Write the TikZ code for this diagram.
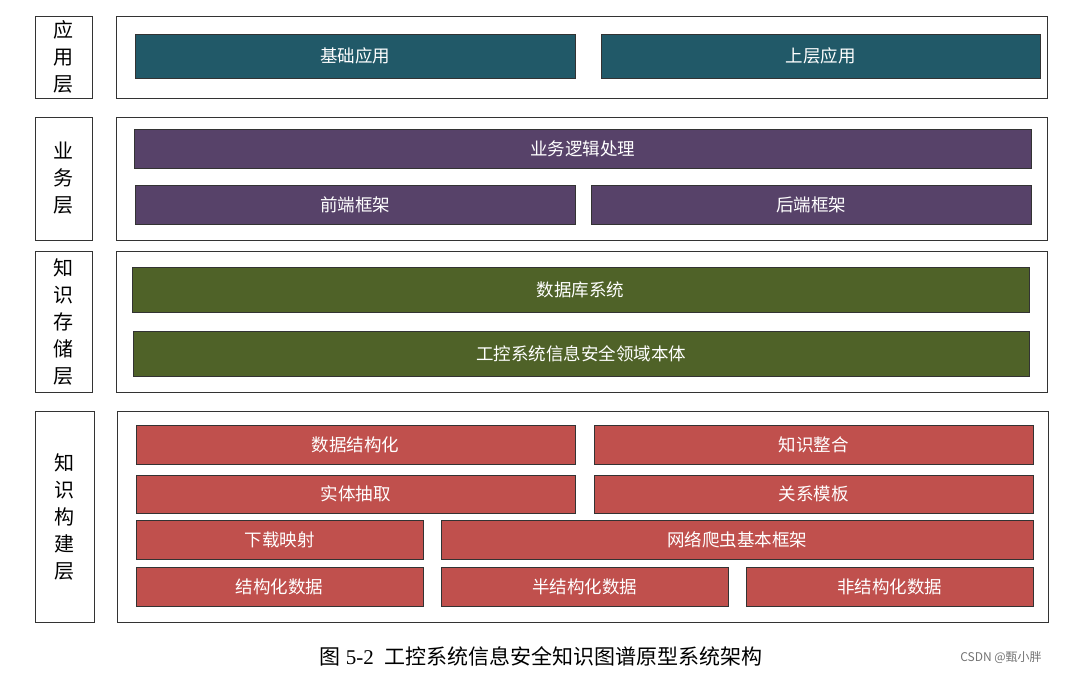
\documentclass[tikz,border=0pt]{standalone}
\usepackage{fontspec}
\setmainfont{Liberation Serif}
\newfontfamily\cjk{Noto Sans CJK SC}
\begin{document}
\begin{tikzpicture}[x=1pt,y=-1pt,
  outer/.style={draw=black!80,line width=0.8pt},
  btn/.style={draw=black!80,line width=0.6pt},
  t/.style={text=white,font=\cjk\fontsize{17.5}{17.5}\selectfont},
  lab/.style={font=\cjk\fontsize{20}{27}\selectfont,align=center}]
\useasboundingbox (0,0) rectangle (1067,674);
\definecolor{cA}{HTML}{215968}
\definecolor{cB}{HTML}{574269}
\definecolor{cC}{HTML}{4F6228}
\definecolor{cD}{HTML}{C0504D}
% layer 1
\draw[outer] (35,16) rectangle (92,98) node[midway,lab] (l1) {应\\用\\层};
\draw[outer] (116,16) rectangle (1047,98);
\draw[btn,fill=cA] (135,34) rectangle (575,78) node[midway,t] (a1) {基础应用};
\draw[btn,fill=cA] (601,34) rectangle (1040,78) node[midway,t] (a2) {上层应用};
% layer 2
\draw[outer] (35,117) rectangle (92,240) node[midway,lab] (l2) {业\\务\\层};
\draw[outer] (116,117) rectangle (1047,240);
\draw[btn,fill=cB] (134,129) rectangle (1031,168) node[midway,t] (b1) {业务逻辑处理};
\draw[btn,fill=cB] (135,185) rectangle (575,224) node[midway,t] (b2) {前端框架};
\draw[btn,fill=cB] (591,185) rectangle (1031,224) node[midway,t] (b3) {后端框架};
% layer 3
\draw[outer] (35,251) rectangle (92,392) node[midway,lab] (l3) {知\\识\\存\\储\\层};
\draw[outer] (116,251) rectangle (1047,392);
\draw[btn,fill=cC] (132,267) rectangle (1029,312) node[midway,t] (c1) {数据库系统};
\draw[btn,fill=cC] (133,331) rectangle (1029,376) node[midway,t] (c2) {工控系统信息安全领域本体};
% layer 4
\draw[outer] (35,411) rectangle (94,622) node[midway,lab] (l4) {知\\识\\构\\建\\层};
\draw[outer] (117,411) rectangle (1048,622);
\draw[btn,fill=cD] (136,425) rectangle (575,464) node[midway,t] (d1) {数据结构化};
\draw[btn,fill=cD] (594,425) rectangle (1033,464) node[midway,t] (d2) {知识整合};
\draw[btn,fill=cD] (136,475) rectangle (575,513) node[midway,t] (d3) {实体抽取};
\draw[btn,fill=cD] (594,475) rectangle (1033,513) node[midway,t] (d4) {关系模板};
\draw[btn,fill=cD] (136,520) rectangle (423,559) node[midway,t] (d5) {下载映射};
\draw[btn,fill=cD] (441,520) rectangle (1033,559) node[midway,t] (d6) {网络爬虫基本框架};
\draw[btn,fill=cD] (136,567) rectangle (423,606) node[midway,t] (d7) {结构化数据};
\draw[btn,fill=cD] (441,567) rectangle (728,606) node[midway,t] (d8) {半结构化数据};
\draw[btn,fill=cD] (746,567) rectangle (1033,606) node[midway,t] (d9) {非结构化数据};
\node[font=\fontsize{21}{21}\selectfont] (cap) at (541,656) {{\cjk 图} 5-2\ \ {\cjk 工控系统信息安全知识图谱原型系统架构}};
\node[font=\cjk\fontsize{12}{12}\selectfont,text=black!55] (wm) at (1001,657) {CSDN @甄小胖};
\end{tikzpicture}
\end{document}
